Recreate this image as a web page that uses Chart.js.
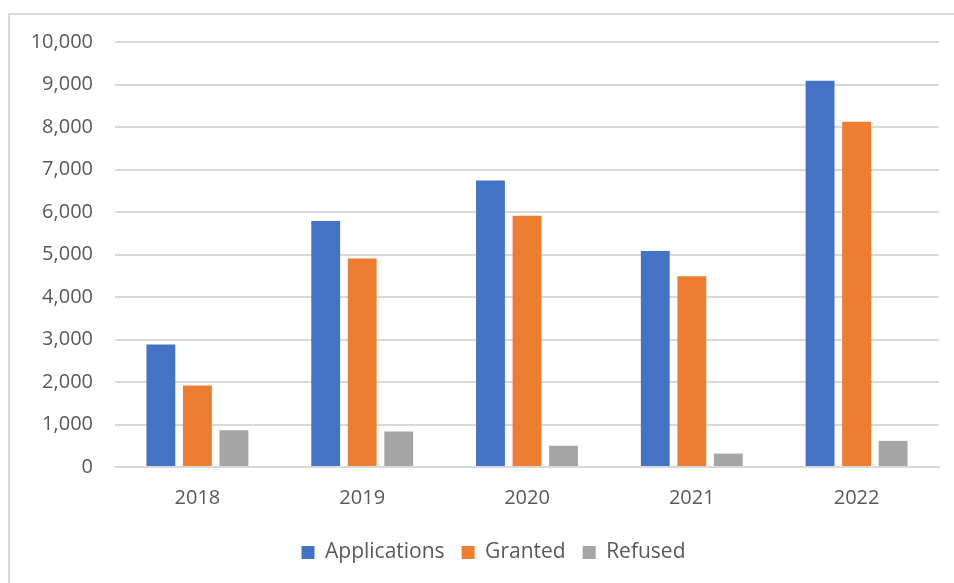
<!DOCTYPE html>
<html>
<head>
<meta charset="utf-8">
<script src="https://cdn.jsdelivr.net/npm/chart.js@4"></script>
<style>
html,body{margin:0;padding:0;background:#fff;}
#wrap{position:absolute;left:0;top:0;width:954px;height:583px;}
#frame{position:absolute;left:8px;top:13px;width:946px;height:570px;border-left:2px solid #d9d9d9;border-top:2px solid #d9d9d9;box-sizing:border-box;}
canvas{position:absolute;left:0;top:0;}
</style>
</head>
<body>
<div id="wrap"><div id="frame"></div><canvas id="c" width="954" height="583"></canvas></div>
<script>
const categories = ["2018", "2019", "2020", "2021", "2022"];
const applications = [2880, 5790, 6740, 5080, 9090];
const granted = [1915, 4905, 5910, 4490, 8125];
const refused = [865, 835, 500, 315, 615];
const yTicks = [0, 1000, 2000, 3000, 4000, 5000, 6000, 7000, 8000, 9000, 10000];

const FONT = "'Open Sans', 'Liberation Sans', sans-serif";
const TXT = "#595959";
const GRID = "#d9d9d9";

const legendShift = {
  id: 'legendShift',
  afterLayout(chart) {
    const lg = chart.legend;
    if (lg) { lg.left += 48; lg.top -= 4; lg.bottom -= 4; }
  }
};

new Chart(document.getElementById('c'), {
  type: 'bar',
  data: {
    labels: categories,
    datasets: [
      {label: 'Applications', data: applications, backgroundColor: '#4472c4'},
      {label: 'Granted', data: granted, backgroundColor: '#ed7d31'},
      {label: 'Refused', data: refused, backgroundColor: '#a5a5a5'}
    ]
  },
  options: {
    responsive: false,
    animation: false,
    datasets: {bar: {categoryPercentage: 0.665, barPercentage: 0.79}},
    layout: {padding: {left: 0, right: 15, top: 42, bottom: 6}},
    plugins: {
      legend: {
        position: 'bottom',
        labels: {
          font: {family: FONT, size: 21},
          color: TXT,
          boxWidth: 13,
          boxHeight: 13,
          padding: 17
        }
      },
      tooltip: {enabled: false}
    },
    scales: {
      x: {
        grid: {display: false, drawTicks: false},
        border: {display: true, color: GRID, width: 2},
        ticks: {font: {family: FONT, size: 20}, color: TXT, padding: 19}
      },
      y: {
        min: 0, max: 10000,
        afterBuildTicks: (s) => { s.ticks = yTicks.map(v => ({value: v})); },
        afterFit: (s) => { s.width = 115; },
        grid: {color: GRID, lineWidth: 2, drawTicks: false},
        border: {display: false},
        ticks: {
          font: {family: FONT, size: 20}, color: TXT, padding: 22,
          callback: (v) => v.toLocaleString('en-US')
        }
      }
    }
  },
  plugins: [legendShift]
});
</script>
</body>
</html>
